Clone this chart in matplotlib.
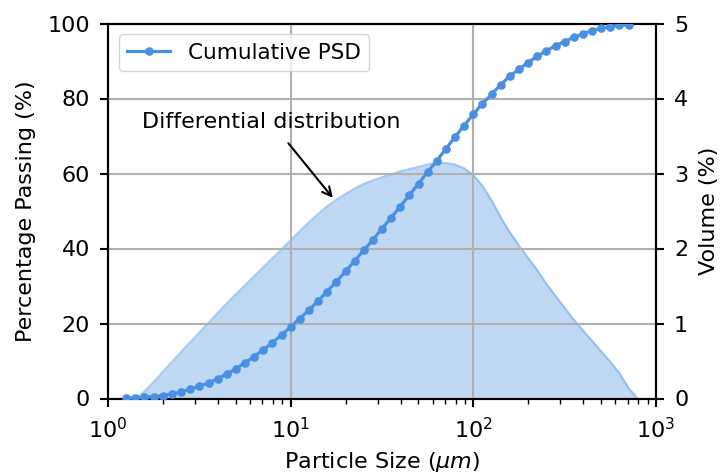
import matplotlib
matplotlib.use("Agg")
import matplotlib.pyplot as plt

# Cumulative PSD (left axis, %)
cum_size = [1.26, 1.41, 1.58, 1.78, 2.0, 2.24, 2.51, 2.82, 3.16, 3.55, 3.98, 4.47, 5.01, 5.62,
            6.31, 7.08, 7.94, 8.91, 10.0,
            11.2, 12.6, 14.1, 15.8, 17.8, 20.0, 22.4, 25.1, 28.2, 31.6, 35.5, 39.8, 44.7, 50.1,
            56.2, 63.1, 70.8, 79.4, 89.1, 100,
            112, 126, 141, 158, 178, 200, 224, 251, 282, 316, 355, 398, 447, 501, 562, 631, 708]
cum_pass = [0.1, 0.2, 0.3, 0.5, 0.8, 1.2, 1.8, 2.5, 3.3, 4.1, 5.3, 6.5, 7.9, 9.5,
            11.2, 13.0, 14.9, 16.9, 19.1,
            21.3, 23.6, 26.0, 28.5, 31.2, 33.9, 36.7, 39.5, 42.3, 45.3, 48.2, 51.2, 54.3, 57.3,
            60.4, 63.4, 66.6, 69.8, 72.8, 75.8,
            78.6, 81.1, 83.7, 85.9, 87.9, 89.6, 91.3, 92.7, 94.1, 95.2, 96.3, 97.3, 98.1, 98.7,
            99.2, 99.5, 99.7]

# Differential distribution (right axis, volume %)
diff_size = [1.41, 1.58, 1.78, 2.0, 2.24, 2.51, 2.82, 3.16, 3.55, 3.98, 4.47, 5.01, 5.62, 6.31,
             7.08, 7.94, 8.91,
             10.0, 11.2, 12.6, 14.1, 15.8, 17.8, 20.0, 22.4, 25.1, 28.2, 31.6, 35.5, 39.8, 44.7,
             50.1, 56.2, 63.1, 70.8, 79.4, 89.1, 100,
             112, 126, 141, 158, 178, 200, 224, 251, 282, 316, 355, 398, 447, 501, 562, 631, 708, 794]
diff_vol = [0.0, 0.09, 0.22, 0.36, 0.49, 0.62, 0.75, 0.88, 1.01, 1.14, 1.27, 1.39, 1.51, 1.63,
            1.75, 1.87, 1.99,
            2.11, 2.23, 2.35, 2.46, 2.56, 2.65, 2.73, 2.80, 2.86, 2.91, 2.95, 2.99, 3.03, 3.06,
            3.09, 3.12, 3.14, 3.14, 3.12, 3.07, 2.98,
            2.84, 2.64, 2.42, 2.22, 2.04, 1.87, 1.71, 1.53, 1.37, 1.21, 1.05, 0.91, 0.77, 0.63,
            0.49, 0.34, 0.14, 0.0]

x_ticks = [1, 10, 100, 1000]
left_ticks = [0, 20, 40, 60, 80, 100]
right_ticks = [0, 1, 2, 3, 4, 5]

color = "#4A90E2"

fig = plt.figure(figsize=(7.2, 4.76), dpi=100)
ax = fig.add_axes([108 / 720, 1 - 398.5 / 476, (656 - 108) / 720, (398.5 - 23.5) / 476])
ax2 = ax.twinx()

ax2.fill_between(diff_size, diff_vol, 0, color=color, alpha=0.35, linewidth=0)
ax2.plot(diff_size, diff_vol, color=color, alpha=0.45, linewidth=1.5)

ax.plot(cum_size, cum_pass, color=color, marker="o", markersize=5.2, linewidth=2.3,
        label="Cumulative PSD", zorder=3)

ax.set_zorder(ax2.get_zorder() + 1)
ax.patch.set_visible(False)

ax.set_xscale("log")
ax.set_xlim(1, 1000)
ax.set_ylim(0, 100)
ax2.set_ylim(0, 5)
ax.set_xticks(x_ticks)
ax.set_yticks(left_ticks)
ax2.set_yticks(right_ticks)

ax.grid(True, which="major", color="#b0b0b0", linewidth=1.5)

for a in (ax, ax2):
    for s in a.spines.values():
        s.set_linewidth(1.5)
        s.set_color("black")
    a.tick_params(which="major", direction="out", length=6, width=1.5, pad=7, labelsize=16)
    a.tick_params(which="minor", direction="out", length=3.5, width=1.0)

ax.set_xlabel("Particle Size ($\\mu m$)", fontsize=16, labelpad=6)
ax.set_ylabel("Percentage Passing (%)", fontsize=16, labelpad=8)
ax2.set_ylabel("Volume (%)", fontsize=16, labelpad=8)

ax.annotate("Differential distribution", xy=(17.0, 53.5), xytext=(7.8, 73.8),
            ha="center", va="center", fontsize=16,
            arrowprops=dict(arrowstyle="->", color="black", lw=1.5, shrinkA=8, shrinkB=0))

ax.legend(loc="upper left", fontsize=15.5, framealpha=0.8)

fig.savefig("out.png", dpi=100)
